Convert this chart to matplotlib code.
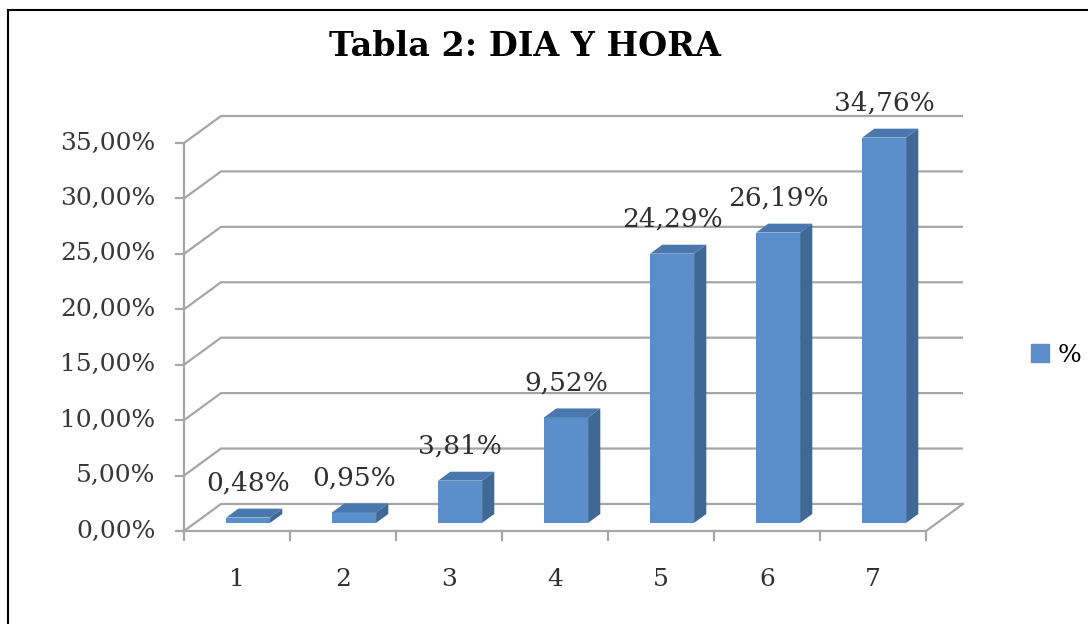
import matplotlib
matplotlib.use("Agg")
import matplotlib.pyplot as plt
import numpy as np
from matplotlib.patches import Polygon, Rectangle, Patch

# data
categories = ["1", "2", "3", "4", "5", "6", "7"]
values = [0.48, 0.95, 3.81, 9.52, 24.29, 26.19, 34.76]
y_ticks = [0, 5, 10, 15, 20, 25, 30, 35]
series_name = "%"
title = "Tabla 2: DIA Y HORA"

# styling
front_col = "#5B8FCB"
side_col = "#3F6896"
top_col = "#4A78AE"
grid_col = "#A6A6A6"
serif = "DejaVu Serif"

W, H = 1088, 624
fig = plt.figure(figsize=(W / 100, H / 100), dpi=100)

# oblique "3D" setup: depth of the box in data units
DX = 0.349   # categories
DY = 2.44    # percent
x_lo, x_hi = 0.5, 7.5
y_top = 35

# axes fits front plane + depth offset
left_px, right_px = 184, 963
bot_px, top_px = 531, 116
ax = fig.add_axes([left_px / W, 1 - bot_px / H, (right_px - left_px) / W, (bot_px - top_px) / H])
ax.set_xlim(x_lo, x_hi + DX)
ax.set_ylim(0, y_top + DY)
ax.axis("off")

glw = 1.6
# back wall + side wall gridlines
for t in y_ticks:
    ax.plot([x_lo, x_lo + DX, x_hi + DX], [t, t + DY, t + DY], color=grid_col, lw=glw, zorder=1,
            solid_capstyle="butt", clip_on=False)
    # tick mark to the left of the front axis
    ax.plot([x_lo - 0.08, x_lo], [t, t], color=grid_col, lw=glw, zorder=1, clip_on=False)
    ax.text(x_lo - 0.27, t, f"{t:.2f}%".replace(".", ","), ha="right", va="center",
            fontsize=18, family=serif, color="#383838", clip_on=False)

# floor: front edge and right edge, front vertical axis
ax.plot([x_lo, x_hi, x_hi + DX], [0, 0, DY], color=grid_col, lw=glw, zorder=1, clip_on=False)
ax.plot([x_lo, x_lo], [0, y_top], color=grid_col, lw=glw, zorder=1, clip_on=False)

# category ticks and labels
for b in np.arange(x_lo, x_hi + 0.01, 1.0):
    ax.plot([b, b], [0, -0.8], color=grid_col, lw=glw, zorder=1, clip_on=False)
cats = np.arange(1, len(categories) + 1)
for c, lab in zip(cats, categories):
    ax.text(c, -4.4, lab, ha="center", va="center", fontsize=18, family=serif, color="#303030",
            clip_on=False)

# bars: front faces via ax.bar, side and top as polygons
z0 = 0.30          # front face depth (fraction)
bd = 0.33          # bar depth (fraction)
bw = 0.415
ddx, ddy = bd * DX, bd * DY
base = z0 * DY
bars = ax.bar(cats + z0 * DX, values, width=bw, bottom=base, color=front_col, zorder=3,
              edgecolor="none")
for c, v in zip(cats, values):
    x0 = c + z0 * DX - bw / 2
    top = base + v
    ax.add_patch(Polygon([(x0, top), (x0 + bw, top), (x0 + bw + ddx, top + ddy), (x0 + ddx, top + ddy)],
                         closed=True, fc=top_col, ec="none", zorder=3))
    ax.add_patch(Polygon([(x0 + bw, base), (x0 + bw + ddx, base + ddy), (x0 + bw + ddx, top + ddy),
                          (x0 + bw, top)], closed=True, fc=side_col, ec="none", zorder=3))
    ax.text(x0 + bw / 2, top + ddy + 2.3, f"{v:.2f}%".replace(".", ","), ha="center",
            va="center", fontsize=19, family=serif, color="#303030", zorder=4, clip_on=False)

fig.text(525 / W, 1 - 47 / H, title, ha="center", va="center", fontsize=24, fontweight="bold",
         family=serif, color="black")

fig.legend(handles=[Patch(color=front_col)], labels=[series_name], loc="center left",
           bbox_to_anchor=(1031 / W, 1 - 355 / H), frameon=False, handlelength=0.7,
           handleheight=0.7, handletextpad=0.35, borderaxespad=0, borderpad=0,
           prop={"family": serif, "size": 18})

# outer frame, only left and top edges visible in the crop
fig.add_artist(Rectangle((8 / W, -0.1), 1.2, (H - 10) / H + 0.1, transform=fig.transFigure,
                         fill=False, ec="black", lw=1.5))

fig.savefig("out.png", dpi=100, facecolor="white")
